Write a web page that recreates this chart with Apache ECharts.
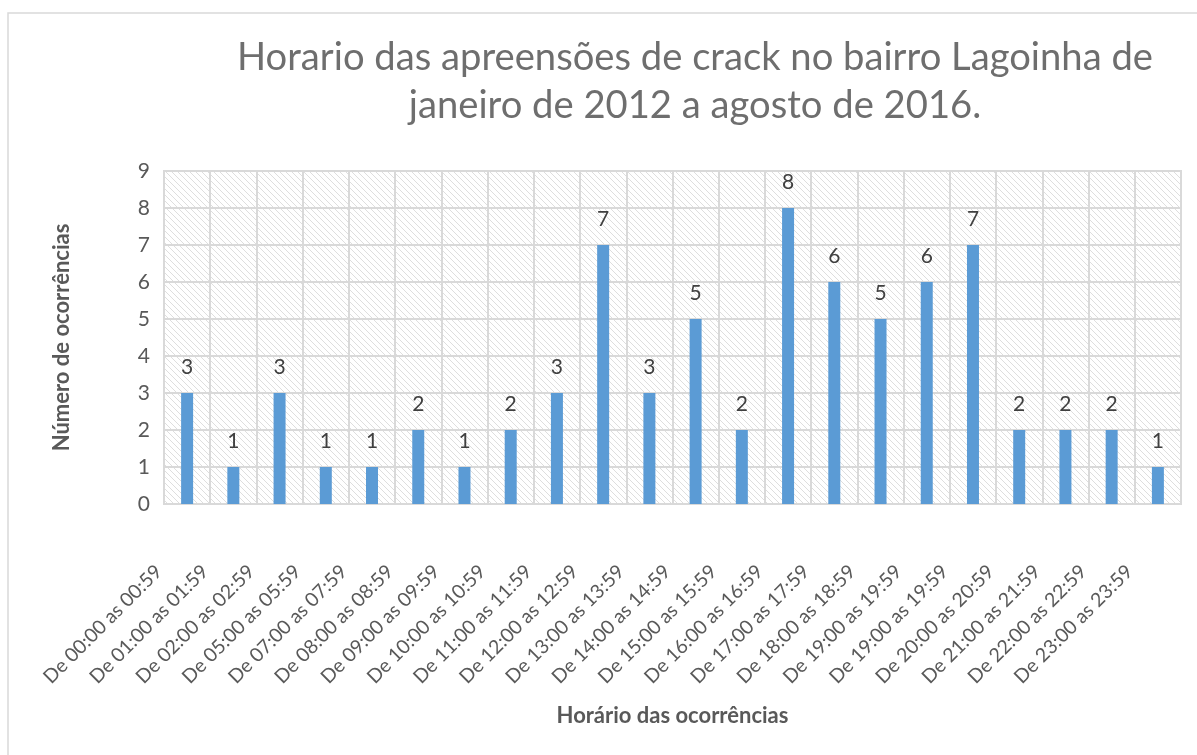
<!DOCTYPE html>
<html>
<head>
<meta charset="utf-8">
<script src="https://cdn.jsdelivr.net/npm/echarts@6/dist/echarts.min.js"></script>
<style>
html,body{margin:0;padding:0;background:#fff;}
#chart{width:1197px;height:755px;}
</style>
</head>
<body>
<div id="chart"></div>
<script>
const titleText = 'Horario das apreensões de crack no bairro Lagoinha de\njaneiro de 2012 a agosto de 2016.';
const xAxisName = 'Horário das ocorrências';
const yAxisName = 'Número de ocorrências';
const categories = [
  'De 00:00 as 00:59','De 01:00 as 01:59','De 02:00 as 02:59','De 05:00 as 05:59',
  'De 07:00 as 07:59','De 08:00 as 08:59','De 09:00 as 09:59','De 10:00 as 10:59',
  'De 11:00 as 11:59','De 12:00 as 12:59','De 13:00 as 13:59','De 14:00 as 14:59',
  'De 15:00 as 15:59','De 16:00 as 16:59','De 17:00 as 17:59','De 18:00 as 18:59',
  'De 19:00 as 19:59','De 19:00 as 19:59','De 20:00 as 20:59','De 21:00 as 21:59',
  'De 22:00 as 22:59','De 23:00 as 23:59'
];
const occurrences = [3,1,3,1,1,2,1,2,3,7,3,5,2,8,6,5,6,7,2,2,2,1];

// hatch pattern for plot background
const pat = document.createElement('canvas');
pat.width = 6; pat.height = 6;
const pc = pat.getContext('2d');
pc.fillStyle = '#ffffff';
pc.fillRect(0,0,6,6);
pc.strokeStyle = '#dedede';
pc.lineWidth = 1;
pc.beginPath();
pc.moveTo(-1,-1); pc.lineTo(7,7);
pc.moveTo(-1,5); pc.lineTo(1,7);
pc.moveTo(5,-1); pc.lineTo(7,1);
pc.stroke();

const FONT = 'Lato, "Open Sans", sans-serif';
const chart = echarts.init(document.getElementById('chart'), null, {renderer:'canvas'});
chart.setOption({
  backgroundColor: '#ffffff',
  animation: false,
  textStyle: {fontFamily: FONT},
  title: {
    text: titleText,
    left: 690,
    textAlign: 'center',
    top: 29,
    textStyle: {fontFamily: FONT, fontSize: 38.2, fontWeight: 'normal', color: '#6e6e6e', lineHeight: 48}
  },
  graphic: [{
    type: 'rect', silent: true, z: -1,
    shape: {x: 8, y: 13, width: 1400, height: 900},
    style: {fill: 'none', stroke: '#d9d9d9', lineWidth: 1.5}
  }],
  grid: {
    left: 164, right: 16, top: 171, bottom: 251,
    show: true,
    backgroundColor: {image: pat, repeat: 'repeat'},
    borderColor: '#d9d9d9', borderWidth: 2
  },
  xAxis: {
    type: 'category',
    data: categories,
    name: xAxisName,
    nameLocation: 'middle',
    nameGap: 201,
    nameTextStyle: {fontFamily: FONT, fontSize: 22, fontWeight: 'bold', color: '#595959'},
    axisLine: {show: true, lineStyle: {color: '#d9d9d9', width: 2}},
    axisTick: {show: false},
    splitLine: {show: true, interval: 0, lineStyle: {color: '#d9d9d9', width: 2}},
    axisLabel: {
      interval: 0, rotate: 45, margin: 36,
      padding: [0, 40, 0, 0],
      fontFamily: FONT, fontSize: 19.5, color: '#595959'
    }
  },
  yAxis: {
    type: 'value',
    min: 0, max: 9, interval: 1,
    name: yAxisName,
    nameLocation: 'middle',
    nameGap: 91,
    nameTextStyle: {fontFamily: FONT, fontSize: 22, fontWeight: 'bold', color: '#595959'},
    axisLine: {show: false},
    axisTick: {show: false},
    splitLine: {show: true, lineStyle: {color: '#d9d9d9', width: 2}},
    axisLabel: {margin: 14, fontFamily: FONT, fontSize: 21, color: '#595959'}
  },
  series: [{
    type: 'bar',
    data: occurrences,
    barWidth: 12,
    itemStyle: {color: '#5b9bd5'},
    label: {show: true, position: 'top', distance: 15, fontFamily: FONT, fontSize: 21, color: '#404040'}
  }]
});
</script>
</body>
</html>
